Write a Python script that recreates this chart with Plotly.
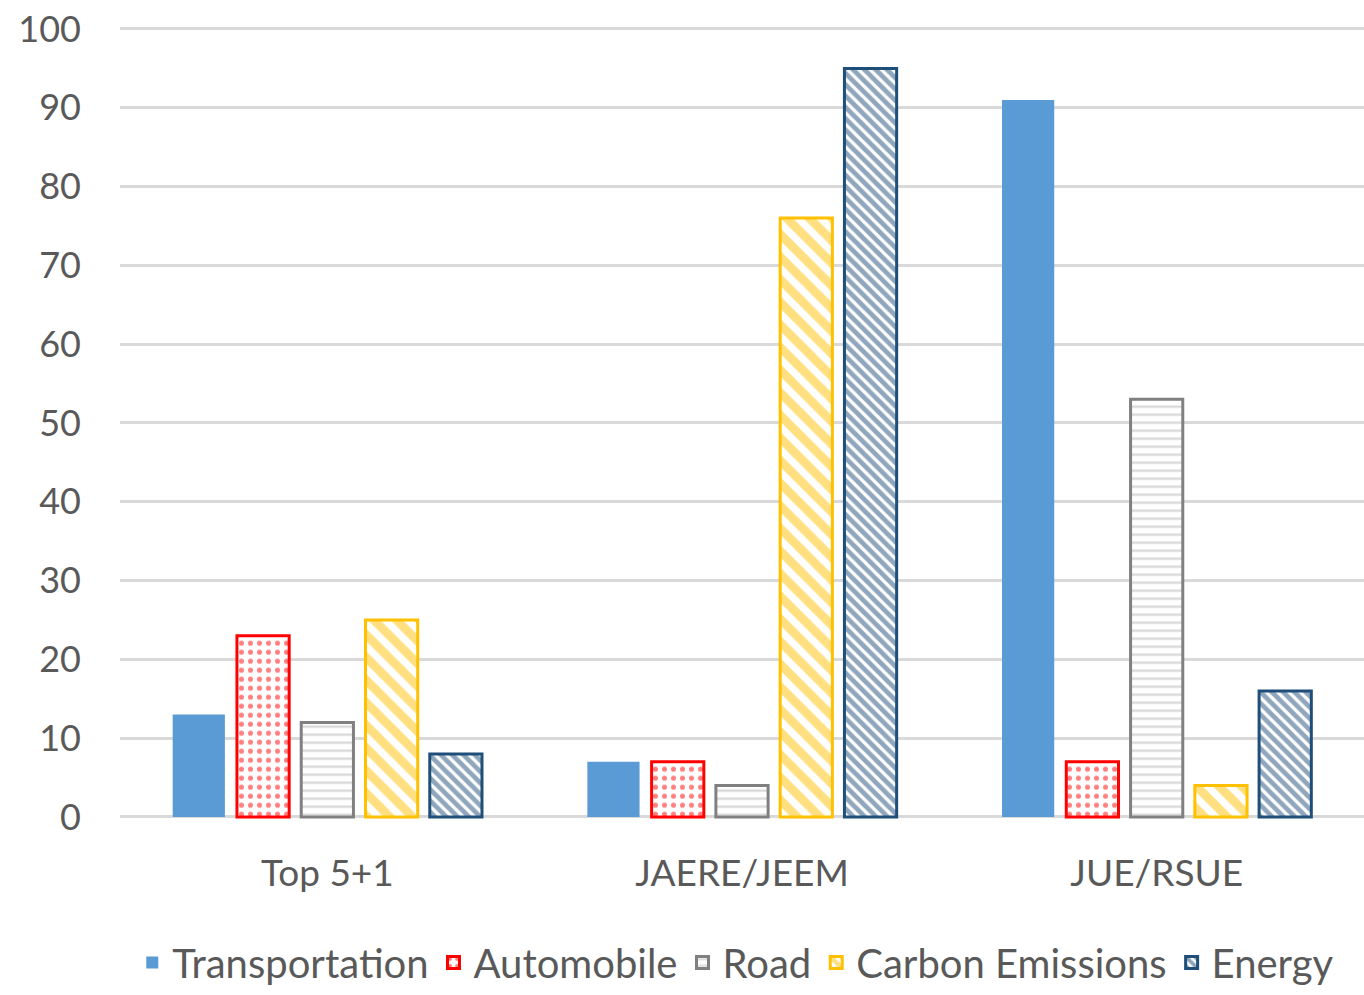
import plotly.graph_objects as go

categories = ["Top 5+1", "JAERE/JEEM", "JUE/RSUE"]
series_names = ["Transportation", "Automobile", "Road", "Carbon Emissions", "Energy"]
transportation = [13, 7, 91]
automobile = [23, 7, 7]
road = [12, 4, 53]
carbon_emissions = [25, 76, 4]
energy = [8, 95, 16]
y_ticks = [0, 10, 20, 30, 40, 50, 60, 70, 80, 90, 100]

values = [transportation, automobile, road, carbon_emissions, energy]

styles = [
    dict(color="#5B9BD5", line=dict(color="#5B9BD5", width=0)),
    dict(color="white", line=dict(color="#FF0000", width=3),
         pattern=dict(shape=".", fgcolor="#FF0000", bgcolor="white", size=9, solidity=0.25)),
    dict(color="white", line=dict(color="#808080", width=3),
         pattern=dict(shape="-", fgcolor="#B4B4B4", bgcolor="white", size=8, solidity=0.3)),
    dict(color="white", line=dict(color="#FFC000", width=3),
         pattern=dict(shape="\\", fgcolor="#FFC000", bgcolor="white", size=16, solidity=0.55)),
    dict(color="white", line=dict(color="#1F4E79", width=3),
         pattern=dict(shape="\\", fgcolor="#1F4E79", bgcolor="white", size=8, solidity=0.6)),
]

fig = go.Figure()
for name, vals, st in zip(series_names, values, styles):
    fig.add_trace(go.Bar(name=name, x=categories, y=vals, marker=st))

font_family = "Lato, 'Open Sans', sans-serif"
text_color = "#595959"

fig.update_layout(
    width=1364,
    height=995,
    margin=dict(l=120, r=0, t=0, b=0),
    paper_bgcolor="white",
    plot_bgcolor="white",
    barmode="group",
    bargap=0.225,
    bargroupgap=0.1875,
    font=dict(family=font_family, size=36, color=text_color),
    showlegend=True,
    legend=dict(
        orientation="h",
        x=0.495,
        xanchor="center",
        y=0,
        yanchor="bottom",
        font=dict(family=font_family, size=40, color=text_color),
        itemwidth=30,
        tracegroupgap=0,
    ),
    xaxis=dict(
        showgrid=False,
        showline=False,
        ticks="",
        ticklabelstandoff=29,
        automargin=False,
        tickfont=dict(family=font_family, size=37, color=text_color),
    ),
    yaxis=dict(
        range=[-0.3, 100.3],
        domain=[0.17652, 0.97323],
        tickvals=y_ticks,
        showgrid=True,
        gridcolor="#D9D9D9",
        gridwidth=3,
        zeroline=True,
        zerolinecolor="#D9D9D9",
        zerolinewidth=3,
        showline=False,
        ticks="",
        ticklabelstandoff=38,
        automargin=False,
        tickfont=dict(family=font_family, size=36, color=text_color),
    ),
)

fig.write_html("out.html")
